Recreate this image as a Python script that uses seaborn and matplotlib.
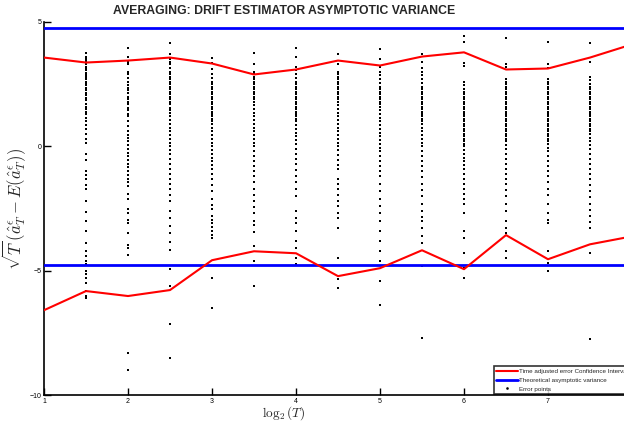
import numpy as np
import pandas as pd
import matplotlib
matplotlib.use("Agg")
import matplotlib.pyplot as plt
import seaborn as sns
from matplotlib.lines import Line2D
from matplotlib import font_manager

# ---- data ----
x_ci = [1, 1.5, 2, 2.5, 3, 3.5, 4, 4.5, 5, 5.5, 6, 6.5, 7, 7.5, 8]
upper_ci = [3.57, 3.37, 3.45, 3.57, 3.33, 2.89, 3.09, 3.45, 3.25, 3.61, 3.78, 3.09, 3.13, 3.57, 4.10]
lower_ci = [-6.59, -5.82, -6.02, -5.78, -4.58, -4.22, -4.30, -5.22, -4.90, -4.18, -4.94, -3.57, -4.54, -3.94, -3.62]
theory_var = 4.77

pts_x = [1.5, 2, 2.5, 3, 3.5, 4, 4.5, 5, 5.5, 6, 6.5, 7, 7.5]
c15 = [3.75, 3.6, 3.5, 3.45, 3.35, 3.3, 3.2, 3.1, 3.05, 2.95, 2.85, 2.8, 2.7, 2.6, 2.5, 2.45, 2.35, 2.25, 2.15, 2.05, 1.95, 1.85, 1.7, 1.6, 1.5, 1.4, 1.3, 1.15, 1.0, 0.85, 0.7, 0.5, 0.3, 0.15, -0.3, -0.55, -1.0, -1.15, -1.3, -1.55, -1.7, -2.2, -2.65, -3.0, -3.4, -3.9, -4.2, -4.4, -4.6, -4.75, -5.0, -5.15, -5.3, -5.5, -5.8, -6.0, -6.1]
c2 = [3.95, 3.6, 3.4, 3.3, 3.0, 2.9, 2.75, 2.6, 2.45, 2.35, 2.25, 2.15, 2.0, 1.9, 1.8, 1.7, 1.55, 1.45, 1.3, 1.2, 1.0, 0.8, 0.6, 0.45, 0.35, 0.2, 0.05, -0.1, -0.25, -0.4, -0.55, -0.7, -0.85, -1.0, -1.15, -1.3, -1.45, -1.6, -1.9, -2.1, -2.5, -2.7, -2.95, -3.1, -3.5, -3.95, -4.1, -4.35, -8.3, -9.0]
c25 = [4.15, 3.7, 3.5, 3.4, 3.3, 3.15, 3.0, 2.9, 2.8, 2.7, 2.6, 2.5, 2.4, 2.3, 2.2, 2.1, 2.0, 1.9, 1.8, 1.7, 1.55, 1.45, 1.35, 1.2, 1.05, 0.9, 0.75, 0.6, 0.45, 0.3, 0.15, 0.0, -0.15, -0.3, -0.5, -0.7, -0.9, -1.1, -1.3, -1.5, -1.7, -1.95, -2.2, -2.6, -2.9, -3.2, -3.5, -3.85, -4.15, -4.95, -5.6, -7.15, -8.5]
c3 = [3.55, 3.35, 3.1, 2.9, 2.75, 2.6, 2.5, 2.4, 2.3, 2.2, 2.1, 2.0, 1.9, 1.8, 1.7, 1.6, 1.5, 1.4, 1.3, 1.2, 1.1, 1.0, 0.9, 0.75, 0.6, 0.45, 0.3, 0.15, 0.0, -0.15, -0.3, -0.45, -0.6, -0.75, -0.9, -1.1, -1.3, -1.55, -1.8, -2.1, -2.35, -2.5, -2.8, -2.95, -3.1, -3.25, -3.4, -3.55, -3.7, -5.3, -6.5]
c35 = [3.75, 3.3, 3.0, 2.9, 2.8, 2.7, 2.6, 2.5, 2.4, 2.3, 2.2, 2.1, 2.0, 1.9, 1.8, 1.65, 1.5, 1.35, 1.2, 1.05, 0.9, 0.75, 0.6, 0.45, 0.3, 0.15, 0.0, -0.2, -0.4, -0.6, -0.8, -1.0, -1.2, -1.45, -1.7, -1.95, -2.2, -2.45, -2.7, -3.0, -3.15, -3.45, -4.0, -4.6, -5.6]
c4 = [3.95, 3.6, 3.2, 3.05, 2.9, 2.75, 2.6, 2.5, 2.4, 2.3, 2.2, 2.1, 2.0, 1.9, 1.8, 1.7, 1.6, 1.5, 1.4, 1.3, 1.2, 1.1, 1.0, 0.85, 0.7, 0.55, 0.4, 0.25, 0.1, -0.1, -0.3, -0.5, -0.7, -0.95, -1.2, -1.45, -1.7, -2.0, -2.6, -2.9, -3.1, -3.4, -3.8, -4.1, -4.5, -4.75]
c45 = [3.7, 3.3, 3.0, 2.9, 2.8, 2.7, 2.6, 2.5, 2.4, 2.3, 2.2, 2.1, 2.0, 1.9, 1.8, 1.65, 1.5, 1.35, 1.2, 1.05, 0.9, 0.75, 0.6, 0.45, 0.3, 0.15, 0.0, -0.15, -0.35, -0.55, -0.75, -0.9, -1.3, -1.5, -1.7, -1.95, -2.2, -2.4, -2.7, -2.9, -3.3, -4.5, -5.35, -5.7]
c5 = [3.9, 3.5, 3.2, 3.0, 2.85, 2.7, 2.55, 2.4, 2.3, 2.2, 2.1, 2.0, 1.9, 1.8, 1.7, 1.6, 1.45, 1.3, 1.15, 1.0, 0.85, 0.7, 0.55, 0.4, 0.25, 0.1, -0.05, -0.2, -0.4, -0.6, -0.8, -1.0, -1.2, -1.5, -1.8, -2.1, -2.4, -2.7, -3.0, -3.4, -3.8, -4.2, -4.6, -5.4, -6.4]
c55 = [3.73, 3.4, 3.15, 3.0, 2.85, 2.7, 2.55, 2.4, 2.3, 2.2, 2.1, 2.0, 1.9, 1.8, 1.7, 1.6, 1.5, 1.4, 1.3, 1.2, 1.1, 1.0, 0.9, 0.75, 0.6, 0.45, 0.3, 0.15, 0.0, -0.2, -0.4, -0.6, -0.8, -1.0, -1.25, -1.5, -1.75, -2.0, -2.3, -2.6, -2.85, -3.0, -3.3, -3.6, -3.9, -4.8, -7.7]
c6 = [4.42, 4.2, 3.35, 3.25, 2.6, 2.45, 2.3, 2.2, 2.1, 2.0, 1.9, 1.8, 1.7, 1.6, 1.5, 1.4, 1.3, 1.2, 1.1, 1.0, 0.9, 0.8, 0.7, 0.6, 0.5, 0.4, 0.3, 0.2, 0.1, 0.0, -0.15, -0.3, -0.45, -0.6, -0.75, -0.9, -1.1, -1.3, -1.5, -1.7, -1.9, -2.1, -2.3, -2.7, -3.4, -3.7, -4.3, -4.9, -5.3]
c65 = [4.34, 3.3, 3.2, 2.7, 2.6, 2.5, 2.4, 2.3, 2.2, 2.1, 2.0, 1.9, 1.8, 1.7, 1.6, 1.5, 1.4, 1.3, 1.2, 1.1, 1.0, 0.9, 0.8, 0.7, 0.6, 0.5, 0.4, 0.3, 0.2, 0.05, -0.1, -0.3, -0.5, -0.7, -0.9, -1.1, -1.3, -1.5, -1.75, -2.0, -2.3, -2.6, -3.0, -3.3, -3.5, -4.2, -4.5]
c7 = [4.2, 3.3, 3.15, 2.7, 2.6, 2.5, 2.4, 2.3, 2.2, 2.1, 2.0, 1.9, 1.8, 1.7, 1.6, 1.5, 1.4, 1.3, 1.2, 1.1, 1.0, 0.9, 0.8, 0.7, 0.6, 0.5, 0.4, 0.3, 0.2, 0.1, -0.05, -0.2, -0.4, -0.6, -0.8, -1.0, -1.2, -1.45, -1.7, -1.95, -2.3, -2.7, -2.95, -3.1, -4.2, -4.7, -5.0]
c75 = [4.14, 3.4, 2.8, 2.65, 2.5, 2.4, 2.3, 2.2, 2.1, 2.0, 1.9, 1.8, 1.7, 1.6, 1.5, 1.4, 1.3, 1.2, 1.1, 1.0, 0.9, 0.8, 0.7, 0.6, 0.5, 0.35, 0.2, 0.05, -0.1, -0.3, -0.5, -0.7, -0.9, -1.1, -1.3, -1.55, -1.8, -2.05, -2.3, -2.55, -2.8, -3.05, -3.3, -4.3, -7.75]
pts_cols = [c15, c2, c25, c3, c35, c4, c45, c5, c55, c6, c65, c7, c75]

x_ticks = [1, 2, 3, 4, 5, 6, 7]
y_ticks = [-10, -5, 0, 5]

# ---- style ----
sns.set_style("ticks")
plt.rcParams["font.family"] = ["Liberation Sans", "DejaVu Sans"]
plt.rcParams["mathtext.fontset"] = "cm"

names = {f.name for f in font_manager.fontManager.ttflist}
if "Liberation Sans Narrow" in names:
    title_family = ["Liberation Sans Narrow", "Liberation Sans", "DejaVu Sans"]
    title_size = 10.5
else:
    title_family = ["Liberation Sans", "DejaVu Sans"]
    title_size = 8.8

fig = plt.figure(figsize=(6.24, 4.24), dpi=100)
ax = fig.add_axes([44 / 624, 1 - 395 / 424, 588 / 624, (395 - 22) / 424])
center_x = (284 - 44) / 588

pts = pd.concat(
    [pd.DataFrame({"x": xv, "y": col}) for xv, col in zip(pts_x, pts_cols)],
    ignore_index=True,
)
sns.scatterplot(data=pts, x="x", y="y", ax=ax, color="black", marker="s",
                s=1.0, linewidth=0, zorder=2, legend=False)

ax.axhline(theory_var, color="blue", lw=2.0, zorder=3)
ax.axhline(-theory_var, color="blue", lw=2.0, zorder=3)

ci = pd.DataFrame({"x": x_ci, "upper": upper_ci, "lower": lower_ci})
sns.lineplot(data=ci, x="x", y="upper", ax=ax, color="red", lw=1.5, zorder=4)
sns.lineplot(data=ci, x="x", y="lower", ax=ax, color="red", lw=1.5, zorder=4)

ax.set_xlim(1, 8)
ax.set_ylim(-10, 5)
ax.set_xticks(x_ticks)
ax.set_yticks(y_ticks)
ax.tick_params(direction="in", length=5, width=1, labelsize=5, pad=2, colors="black")
for s in ["top", "right"]:
    ax.spines[s].set_visible(False)
for s in ["left", "bottom"]:
    ax.spines[s].set_linewidth(1.2)
    ax.spines[s].set_color("black")

ax.set_xlabel(r"$\log_2(T)$", fontsize=9.5, labelpad=0)
ax.xaxis.set_label_coords(center_x, -0.025, transform=ax.transAxes)
ax.xaxis.label.set_verticalalignment("top")
ax.set_ylabel(r"$\sqrt{T}\,(\hat{a}^{\epsilon}_T - E(\hat{a}^{\epsilon}_T))$", fontsize=12, labelpad=6)
ax.yaxis.set_label_coords((28 - 44) / 588, 0.5, transform=ax.transAxes)
ax.set_title("AVERAGING: DRIFT ESTIMATOR ASYMPTOTIC VARIANCE", fontsize=title_size,
             fontweight="bold", family=title_family, pad=6, x=center_x)

handles = [
    Line2D([], [], color="red", lw=1.5),
    Line2D([], [], color="blue", lw=2.0),
    Line2D([], [], color="black", marker="s", ms=0.8, ls="none"),
]
labels = ["Time adjusted error Confidence Interval",
          "Theoretical asymptotic variance", "Error points"]
leg = ax.legend(handles, labels, loc="lower right", fontsize=4.5, frameon=True,
                fancybox=False, borderaxespad=0.2, handlelength=3.5,
                handletextpad=0.3, labelspacing=0.55, borderpad=0.35)
leg.get_frame().set_edgecolor("black")
leg.get_frame().set_linewidth(1.2)

fig.savefig("out.png", dpi=100)
